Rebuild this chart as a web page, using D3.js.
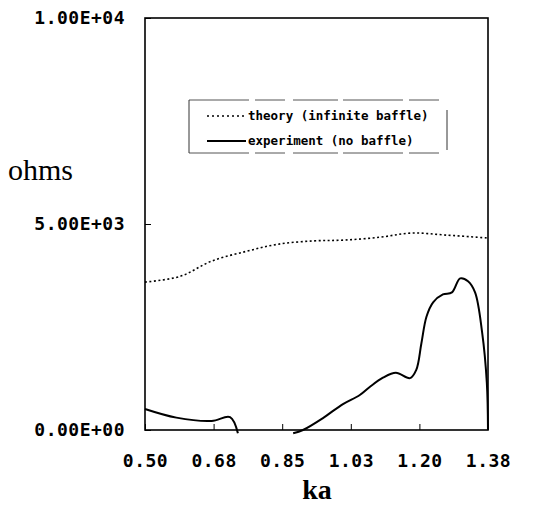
<!DOCTYPE html>
<html>
<head>
<meta charset="utf-8">
<script src="https://cdn.jsdelivr.net/npm/d3@7"></script>
<style>
  body { margin: 0; background: #fff; }
  svg { display: block; }
</style>
</head>
<body>
<script>
// tick positions and labels
var xTicks = [0.5, 0.675, 0.85, 1.025, 1.2, 1.375];
var xTickLabels = ["0.50", "0.68", "0.85", "1.03", "1.20", "1.38"];
var yTicks = [0, 5000, 10000];
var yTickLabels = ["0.00E+00", "5.00E+03", "1.00E+04"];

// theory (infinite baffle)
var theoryKa = [0.50, 0.59, 0.67, 0.76, 0.84, 0.93, 1.01, 1.10, 1.18, 1.27, 1.375];
var theoryOhms = [3590, 3730, 4100, 4340, 4510, 4590, 4610, 4680, 4780, 4730, 4660];

// experiment (no baffle) - null = gap where it went negative off the chart
var expKa = [0.50, 0.58, 0.67, 0.717, 0.737, null, 0.878, 0.903, 0.954, 1.005, 1.048, 1.074, 1.107, 1.14, 1.176, 1.192, 1.205, 1.218, 1.235, 1.26, 1.283, 1.304, 1.324, 1.342, 1.36, 1.372, 1.375];
var expOhms = [510, 300, 220, 310, -80, null, -80, 0, 290, 630, 850, 1050, 1270, 1390, 1260, 1460, 2100, 2750, 3100, 3290, 3340, 3680, 3610, 3340, 2370, 1150, 0];

var w = 541, h = 507;
var pLeft = 145, pRight = 488, pTop = 18, pBottom = 430;

var svg = d3.select("body").append("svg")
    .attr("width", w)
    .attr("height", h);

var x = d3.scaleLinear().domain([0.5, 1.375]).range([pLeft, pRight]);
var y = d3.scaleLinear().domain([0, 10000]).range([pBottom, pTop]);

var tickFont = "'DejaVu Sans Mono', monospace";

// x axis (ticks point inward)
var xAxis = svg.append("g")
    .attr("transform", "translate(0," + pBottom + ")")
    .call(d3.axisBottom(x)
        .tickValues(xTicks)
        .tickSize(-6)
        .tickPadding(24)
        .tickFormat(function(d, i) { return xTickLabels[i]; }));
xAxis.select(".domain").remove();
xAxis.selectAll("line").attr("stroke", "#000").attr("stroke-width", 1);
xAxis.selectAll("text")
    .attr("font-family", tickFont)
    .attr("font-size", 18)
    .attr("font-weight", "bold")
    .attr("letter-spacing", 0.5)
    .attr("fill", "#000");

// y axis
var yAxis = svg.append("g")
    .attr("transform", "translate(" + pLeft + ",0)")
    .call(d3.axisLeft(y)
        .tickValues(yTicks)
        .tickSize(-6)
        .tickPadding(20)
        .tickFormat(function(d, i) { return yTickLabels[i]; }));
yAxis.select(".domain").remove();
yAxis.selectAll("line").attr("stroke", "#000").attr("stroke-width", 1);
yAxis.selectAll("text")
    .attr("font-family", tickFont)
    .attr("font-size", 18)
    .attr("font-weight", "bold")
    .attr("letter-spacing", 0.5)
    .attr("fill", "#000");

// frame
svg.append("rect")
    .attr("x", pLeft)
    .attr("y", pTop)
    .attr("width", pRight - pLeft)
    .attr("height", pBottom - pTop)
    .attr("fill", "none")
    .attr("stroke", "#000")
    .attr("stroke-width", 1.6);

var line = d3.line()
    .defined(function(d) { return d[0] !== null; })
    .x(function(d) { return x(d[0]); })
    .y(function(d) { return y(d[1]); })
    .curve(d3.curveCatmullRom);

var theory = theoryKa.map(function(k, i) { return [k, theoryOhms[i]]; });
var experiment = expKa.map(function(k, i) { return [k, expOhms[i]]; });

svg.append("path")
    .datum(theory)
    .attr("d", line)
    .attr("fill", "none")
    .attr("stroke", "#000")
    .attr("stroke-width", 1.6)
    .attr("stroke-dasharray", "2,2.5");

svg.append("path")
    .datum(experiment)
    .attr("d", line)
    .attr("fill", "none")
    .attr("stroke", "#000")
    .attr("stroke-width", 2)
    .attr("stroke-linejoin", "round");

// legend
var lg = svg.append("g");
lg.append("path")
    .attr("d", "M189,100 H447 M189,153 H447")
    .attr("stroke", "#555")
    .attr("stroke-width", 1)
    .attr("stroke-dasharray", "60,6,30,8,45,5");
lg.append("line").attr("x1", 189).attr("x2", 189).attr("y1", 100).attr("y2", 153)
    .attr("stroke", "#333").attr("stroke-width", 1);
lg.append("line").attr("x1", 447).attr("x2", 447).attr("y1", 110).attr("y2", 150)
    .attr("stroke", "#333").attr("stroke-width", 1);

var legendItems = ["theory (infinite baffle)", "experiment (no baffle)"];
legendItems.forEach(function(name, i) {
    var ly = 116 + i * 25;
    lg.append("line")
        .attr("x1", 207).attr("x2", 246)
        .attr("y1", ly).attr("y2", ly)
        .attr("stroke", "#000")
        .attr("stroke-width", i === 0 ? 1.3 : 2)
        .attr("stroke-dasharray", i === 0 ? "2,3" : null);
    lg.append("text")
        .attr("x", 248)
        .attr("y", ly + 4)
        .attr("font-family", tickFont)
        .attr("font-size", 12.5)
        .attr("font-weight", "bold")
        .attr("fill", "#000")
        .text(name);
});

// axis titles
svg.append("text")
    .attr("x", 8)
    .attr("y", 180)
    .attr("font-family", "'Liberation Serif', serif")
    .attr("font-size", 30)
    .text("ohms");

svg.append("text")
    .attr("x", 317)
    .attr("y", 499)
    .attr("text-anchor", "middle")
    .attr("font-family", "'Liberation Serif', serif")
    .attr("font-size", 28)
    .attr("font-weight", "bold")
    .text("ka");
</script>
</body>
</html>
